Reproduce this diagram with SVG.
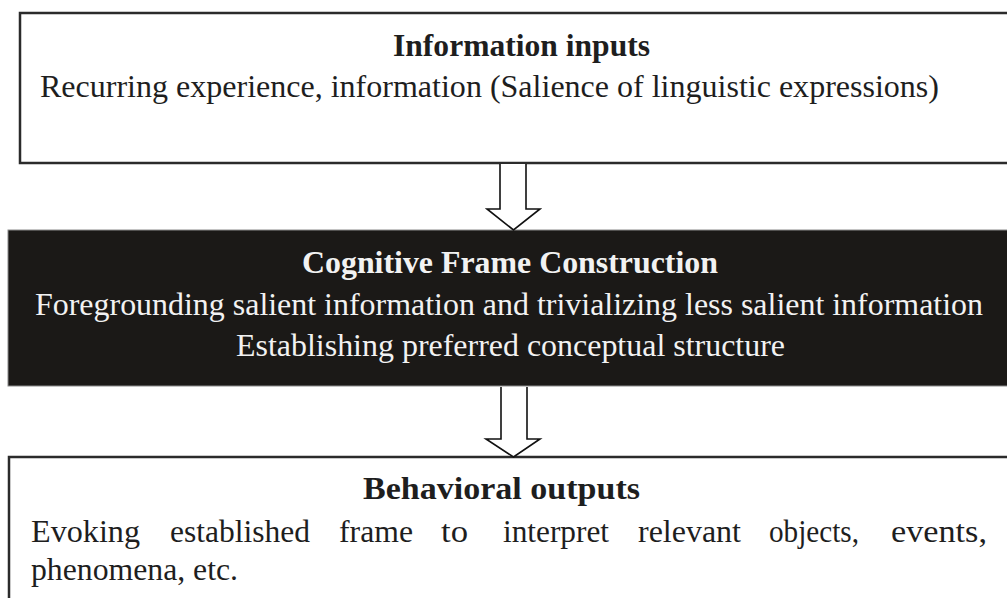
<svg xmlns="http://www.w3.org/2000/svg" width="1007" height="598" viewBox="0 0 1007 598">
  <style>
    .box { fill: #ffffff; stroke: #2b2b2b; stroke-width: 2.5; }
    .dark { fill: #1b1917; stroke: #8a8a8a; stroke-width: 1; }
    .t { font-family: "Liberation Serif", "Times New Roman", serif; font-size: 31px; fill: #1e1e1e; }
    .b { font-weight: bold; }
    .w { fill: #f2f2f2; }
    .arrow { fill: #ffffff; stroke: #111111; stroke-width: 1.6; stroke-linejoin: miter; }
  </style>
  <rect x="0" y="0" width="1007" height="598" fill="#ffffff"/>

  <g id="node-inputs">
    <rect class="box" x="20" y="13" width="1000" height="150"/>
    <text class="t b" x="393" y="56" textLength="257" lengthAdjust="spacingAndGlyphs">Information inputs</text>
    <text class="t" x="40" y="97" textLength="899" lengthAdjust="spacingAndGlyphs">Recurring experience, information (Salience of linguistic expressions)</text>
  </g>

  <g id="node-construction">
    <rect class="dark" x="8" y="230" width="1010" height="156"/>
    <text class="t b w" x="302" y="273" textLength="416" lengthAdjust="spacingAndGlyphs">Cognitive Frame Construction</text>
    <text class="t w" x="35" y="315" textLength="948" lengthAdjust="spacingAndGlyphs">Foregrounding salient information and trivializing less salient information</text>
    <text class="t w" x="236" y="356" textLength="549" lengthAdjust="spacingAndGlyphs">Establishing preferred conceptual structure</text>
  </g>

  <g id="node-outputs">
    <rect class="box" x="9" y="457" width="1010" height="160"/>
    <text class="t b" x="363" y="499" textLength="277" lengthAdjust="spacingAndGlyphs">Behavioral outputs</text>
    <text class="t" y="542">
      <tspan x="31" textLength="109" lengthAdjust="spacingAndGlyphs">Evoking</tspan>
      <tspan x="170" textLength="140" lengthAdjust="spacingAndGlyphs">established</tspan>
      <tspan x="339" textLength="74" lengthAdjust="spacingAndGlyphs">frame</tspan>
      <tspan x="441" textLength="27" lengthAdjust="spacingAndGlyphs">to</tspan>
      <tspan x="503" textLength="106" lengthAdjust="spacingAndGlyphs">interpret</tspan>
      <tspan x="638" textLength="103" lengthAdjust="spacingAndGlyphs">relevant</tspan>
      <tspan x="769" textLength="90" lengthAdjust="spacingAndGlyphs">objects,</tspan>
      <tspan x="891" textLength="96" lengthAdjust="spacingAndGlyphs">events,</tspan>
    </text>
    <text class="t" x="31" y="580" textLength="207" lengthAdjust="spacingAndGlyphs">phenomena, etc.</text>
  </g>

  <g id="connectors">
    <path class="arrow" d="M500,164 V209 H487 L513.5,230 L540,209 H526 V164"/>
    <path class="arrow" d="M501,387 V439 H486 L513.5,457 L540,439 H527 V387"/>
  </g>
</svg>
